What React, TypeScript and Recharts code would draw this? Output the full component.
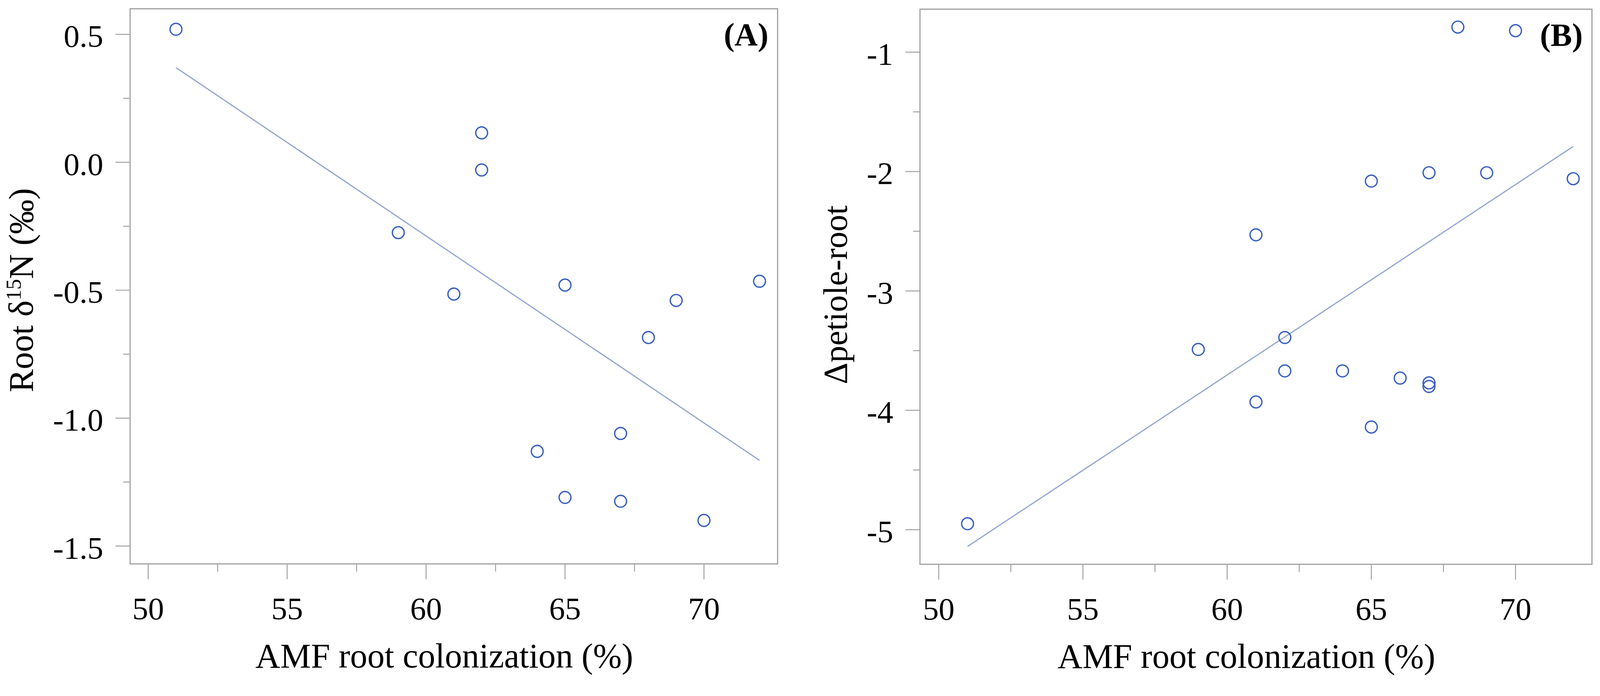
import { ScatterChart, Scatter, XAxis, YAxis, ReferenceArea } from 'recharts';

// AMF root colonization (%) and root δ15N (‰), panel A
const colonizationA = [51, 62, 62, 59, 61, 65, 72, 69, 68, 67, 64, 65, 67, 70];
const rootD15N = [0.52, 0.115, -0.03, -0.275, -0.515, -0.48, -0.465, -0.54, -0.685, -1.06, -1.13, -1.31, -1.325, -1.4];

// AMF root colonization (%) and Δpetiole-root, panel B
const colonizationB = [51, 59, 61, 61, 62, 62, 64, 65, 66, 67, 67, 68, 70, 65, 67, 69, 72];
const deltaPetioleRoot = [-4.95, -3.49, -2.53, -3.93, -3.39, -3.67, -3.67, -4.14, -3.73, -3.77, -3.8, -0.79, -0.82, -2.08, -2.01, -2.01, -2.06];

// regression line end points
const fitX = [51, 72];
const fitA = [0.37, -1.165];
const fitB = [-5.14, -1.79];

const xTicks = [50, 52.5, 55, 57.5, 60, 62.5, 65, 67.5, 70];
const yTicksA = [-1.5, -1.25, -1, -0.75, -0.5, -0.25, 0, 0.25, 0.5];
const yTicksB = [-5, -4.5, -4, -3.5, -3, -2.5, -2, -1.5, -1];

const X_DOMAIN = [49.35, 72.65];
const Y_DOMAIN_A = [-1.57, 0.6];
const Y_DOMAIN_B = [-5.29, -0.64];

const FONT = '"Liberation Serif", "Times New Roman", serif';
const GRAY = '#a0a0a0';
const POINT = '#3a5fc0';
const LINE = '#8fa3cc';

const PAGE_W = 4181;
const PAGE_H = 1781;

const toPoints = (xs: number[], ys: number[]) => xs.map((x, i) => ({ x, y: ys[i] }));

const XTick = (props: any) => {
  const { x, y, payload } = props;
  const major = payload.value % 5 === 0;
  return (
    <g>
      <line x1={x} x2={x} y1={y} y2={y + (major ? 40 : 20)} stroke={GRAY} strokeWidth={2.5} />
      {major && (
        <text x={x} y={y + 145} textAnchor="middle" fontSize={83} fontFamily={FONT} fill="#000">
          {payload.value}
        </text>
      )}
    </g>
  );
};

const makeYTick = (step: number, digits: number) => (props: any) => {
  const { x, y, payload } = props;
  const major = Math.abs(payload.value / step - Math.round(payload.value / step)) < 1e-6;
  return (
    <g>
      <line x1={x - (major ? 38 : 18)} x2={x} y1={y} y2={y} stroke={GRAY} strokeWidth={2.5} />
      {major && (
        <text x={x - 70} y={y + 33} textAnchor="end" fontSize={83} fontFamily={FONT} fill="#000">
          {payload.value.toFixed(digits)}
        </text>
      )}
    </g>
  );
};

const XTitle = ({ viewBox }: any) => (
  <text x={viewBox.x + viewBox.width / 2 - 25} y={viewBox.y + 270} textAnchor="middle" fontSize={90} fontFamily={FONT} fill="#000">
    AMF root colonization (%)
  </text>
);

const PanelTag = (tag: string) => ({ viewBox }: any) => (
  <text x={viewBox.x + viewBox.width - 24} y={viewBox.y + 95} textAnchor="end" fontSize={84} fontWeight="bold" fontFamily={FONT} fill="#000">
    {tag}
  </text>
);

const Circle = (props: any) => (
  <circle cx={props.cx} cy={props.cy} r={15.5} fill="none" stroke={POINT} strokeWidth={3.5} />
);

const Nothing = () => <g />;

const Panel = ({ points, fit, yTicks, yDomain, yStep, yDigits, yAxisWidth, width, top, right, tag, yTitle }: any) => (
  <ScatterChart width={width} height={PAGE_H} margin={{ top, right, bottom: 0, left: 0 }}>
    <XAxis
      type="number"
      dataKey="x"
      domain={X_DOMAIN}
      ticks={xTicks}
      allowDataOverflow
      axisLine={false}
      tickLine={false}
      tickSize={0}
      tickMargin={0}
      tick={XTick}
      height={PAGE_H - 1473 - (top === 24 ? 1 : 0)}
      label={{ content: XTitle }}
    />
    <YAxis
      type="number"
      dataKey="y"
      domain={yDomain}
      ticks={yTicks}
      allowDataOverflow
      axisLine={false}
      tickLine={false}
      tickSize={0}
      tickMargin={0}
      tick={makeYTick(yStep, yDigits)}
      width={yAxisWidth}
      label={{ content: yTitle }}
    />
    <ReferenceArea
      x1={X_DOMAIN[0]}
      x2={X_DOMAIN[1]}
      y1={yDomain[0]}
      y2={yDomain[1]}
      fill="none"
      stroke={GRAY}
      strokeWidth={3}
      label={{ content: PanelTag(tag) }}
    />
    <Scatter data={toPoints(fitX, fit)} line={{ stroke: LINE, strokeWidth: 3 }} shape={Nothing} isAnimationActive={false} />
    <Scatter data={points} shape={Circle} isAnimationActive={false} />
  </ScatterChart>
);

const YTitleA = () => (
  <text x={86} y={758} transform="rotate(-90, 86, 758)" textAnchor="middle" fontSize={90} fontFamily={FONT} fill="#000">
    Root δ<tspan dy={-32} fontSize={56}>15</tspan>
    <tspan dy={32}>N (‰)</tspan>
  </text>
);

const YTitleB = () => (
  <text x={113} y={770} transform="rotate(-90, 113, 770)" textAnchor="middle" fontSize={88} fontFamily={FONT} fill="#000">
    Δpetiole-root
  </text>
);

export default function App() {
  // shrink the whole figure if the viewport is narrower than the figure
  const vw = typeof window !== 'undefined' ? window.innerWidth : PAGE_W;
  const vh = typeof window !== 'undefined' ? window.innerHeight : PAGE_H;
  const scale = Math.min(1, vw / PAGE_W, vh / PAGE_H);

  return (
    <div
      style={{
        position: 'absolute',
        left: 0,
        top: 0,
        width: PAGE_W,
        height: PAGE_H,
        background: '#fff',
        transform: `scale(${scale})`,
        transformOrigin: '0 0',
      }}
    >
      <div style={{ position: 'absolute', left: 0, top: 0 }}>
        <Panel
          points={toPoints(colonizationA, rootD15N)}
          fit={fitA}
          yTicks={yTicksA}
          yDomain={Y_DOMAIN_A}
          yStep={0.5}
          yDigits={1}
          yAxisWidth={340}
          width={2100}
          top={23}
          right={68}
          tag="(A)"
          yTitle={YTitleA}
        />
      </div>
      <div style={{ position: 'absolute', left: 2100, top: 0 }}>
        <Panel
          points={toPoints(colonizationB, deltaPetioleRoot)}
          fit={fitB}
          yTicks={yTicksB}
          yDomain={Y_DOMAIN_B}
          yStep={1}
          yDigits={0}
          yAxisWidth={304}
          width={2081}
          top={24}
          right={21}
          tag="(B)"
          yTitle={YTitleB}
        />
      </div>
    </div>
  );
}
